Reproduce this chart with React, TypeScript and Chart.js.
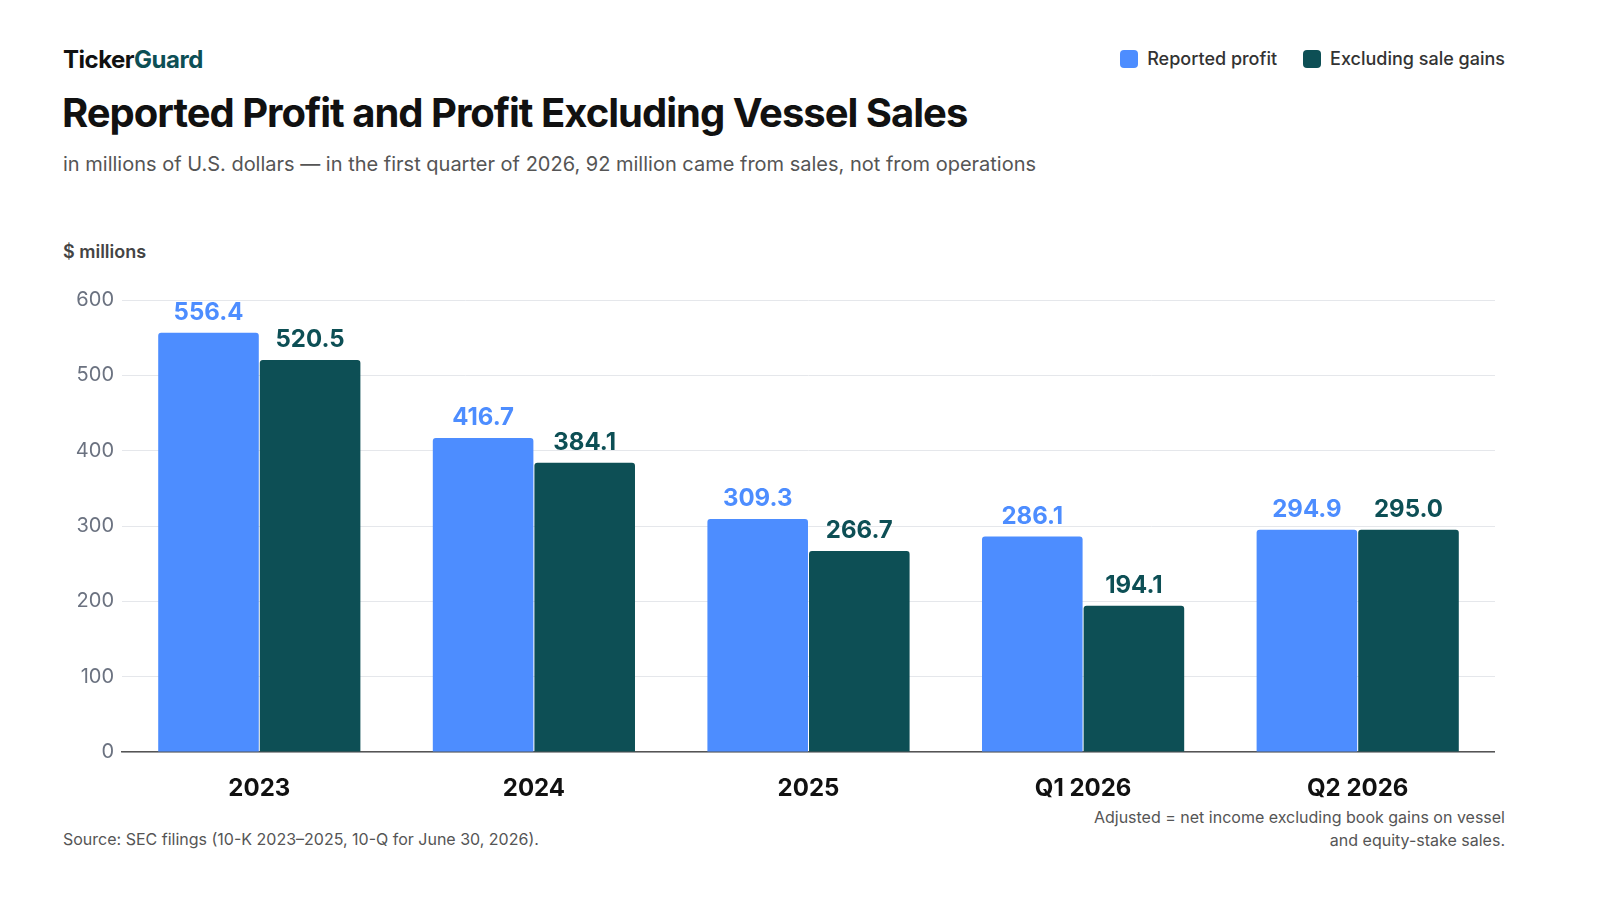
import React, { useEffect, useRef } from "react";
import { Chart, registerables } from "chart.js";
Chart.register(...registerables);

const categories = ["2023", "2024", "2025", "Q1 2026", "Q2 2026"];
const reported = [556.4, 416.7, 309.3, 286.1, 294.9];
const excluding = [520.5, 384.1, 266.7, 194.1, 295.0];
const BLUE = "#4d8dff";
const TEAL = "#0d4f55";
const FONT = "Inter, 'Noto Sans', sans-serif";

const labelPlugin = {
  id: "vals",
  afterDatasetsDraw(chart: any) {
    const ctx = chart.ctx;
    ctx.save();
    ctx.font = `bold 24px ${FONT}`;
    ctx.textAlign = "center";
    ctx.textBaseline = "bottom";
    chart.data.datasets.forEach((ds: any, i: number) => {
      const meta = chart.getDatasetMeta(i);
      ctx.fillStyle = ds.backgroundColor;
      meta.data.forEach((bar: any, j: number) => {
        ctx.fillText(ds.data[j].toFixed(1), bar.x, bar.y - 8);
      });
    });
    ctx.restore();
  },
};

export default function App() {
  const ref = useRef<HTMLCanvasElement>(null);
  useEffect(() => {
    document.body.style.margin = "0";
    const c = new Chart(ref.current!, {
      type: "bar",
      data: {
        labels: categories,
        datasets: [
          { label: "Reported profit", data: reported, backgroundColor: BLUE, borderRadius: 3, borderSkipped: "bottom", categoryPercentage: 0.74, barPercentage: 0.99 },
          { label: "Excluding sale gains", data: excluding, backgroundColor: TEAL, borderRadius: 3, borderSkipped: "bottom", categoryPercentage: 0.74, barPercentage: 0.99 },
        ],
      },
      options: {
        animation: false,
        responsive: false,
        maintainAspectRatio: false,
        layout: { padding: { top: 17, right: 0, left: 0, bottom: 0 } },
        plugins: { legend: { display: false }, tooltip: { enabled: false } },
        scales: {
          y: {
            min: 0, max: 600,
            ticks: { stepSize: 100, color: "#6b7280", font: { family: FONT, size: 20 }, padding: 8 },
            grid: { color: "#e5e7eb", drawTicks: false },
            border: { display: false },
            afterFit: (s: any) => { s.width = 60; },
          },
          x: {
            ticks: { color: "#111", font: { family: FONT, size: 24, weight: "bold" }, padding: 14 },
            grid: { display: false },
            border: { color: "#555", width: 1.5 },
            afterFit: (s: any) => { s.height = 50; },
          },
        },
      },
      plugins: [labelPlugin],
    });
    return () => c.destroy();
  }, []);

  const legendItem = (color: string, text: string) => (
    <div style={{ display: "flex", alignItems: "center", gap: 9 }}>
      <div style={{ width: 18, height: 18, borderRadius: 4, background: color }} />
      <span style={{ fontSize: 18, fontWeight: 500, color: "#333" }}>{text}</span>
    </div>
  );

  return (
    <div style={{ position: "relative", width: 1600, height: 900, background: "#fff", fontFamily: FONT, color: "#111" }}>
      <div style={{ position: "absolute", left: 63, top: 45, fontSize: 24, fontWeight: 700, letterSpacing: -0.5 }}>
        Ticker<span style={{ color: TEAL }}>Guard</span>
      </div>
      <div style={{ position: "absolute", right: 95, top: 48, display: "flex", gap: 26 }}>
        {legendItem(BLUE, "Reported profit")}
        {legendItem(TEAL, "Excluding sale gains")}
      </div>
      <div style={{ position: "absolute", left: 62, top: 88, fontSize: 40, fontWeight: 700, letterSpacing: -1 }}>
        Reported Profit and Profit Excluding Vessel Sales
      </div>
      <div style={{ position: "absolute", left: 63, top: 152, fontSize: 20, color: "#555" }}>
        in millions of U.S. dollars — in the first quarter of 2026, 92 million came from sales, not from operations
      </div>
      <div style={{ position: "absolute", left: 63, top: 241, fontSize: 18, fontWeight: 600, color: "#444" }}>$ millions</div>
      <canvas ref={ref} width={1433} height={522} style={{ position: "absolute", left: 62, top: 280, width: 1433, height: 522 }} />
      <div style={{ position: "absolute", left: 63, top: 829, fontSize: 16, color: "#555" }}>
        Source: SEC filings (10-K 2023–2025, 10-Q for June 30, 2026).
      </div>
      <div style={{ position: "absolute", right: 95, top: 806, fontSize: 16, color: "#555", textAlign: "right", lineHeight: "23px" }}>
        Adjusted = net income excluding book gains on vessel<br />and equity-stake sales.
      </div>
    </div>
  );
}
